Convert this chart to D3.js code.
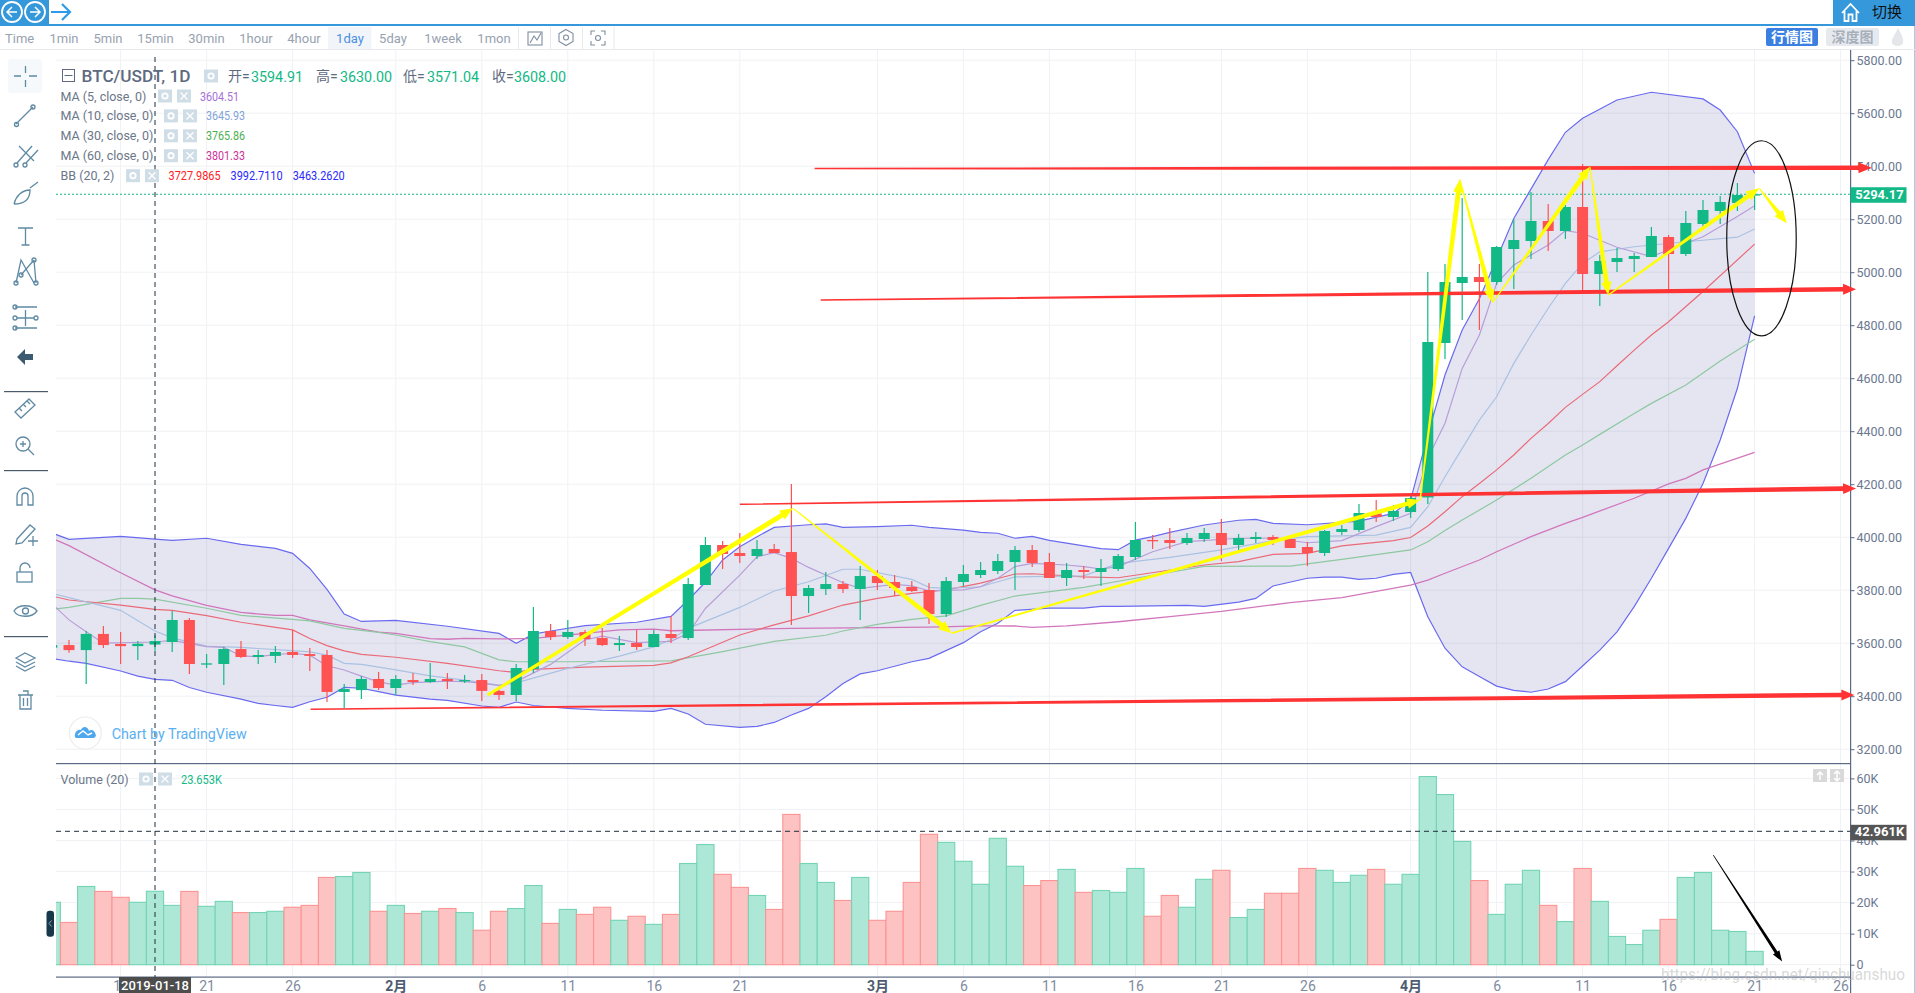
<!DOCTYPE html>
<html><head><meta charset="utf-8">
<script src="https://cdn.jsdelivr.net/npm/d3@7/dist/d3.min.js"></script>
<style>
html,body{margin:0;padding:0;background:#fff;overflow:hidden}
svg{display:block;font-family:Roboto,"Noto Sans CJK SC",sans-serif}
</style></head><body><div id="c"></div>
<script>
// ---------- daily candles, Jan 12 (day 0) to Apr 21 (day 99) ----------
const opens=[3583,3593,3574,3635,3597,3589,3594.91,3604.5,3687.6,3521.5,3521.5,3578,3548,3552,3567,3559,3555.5,3416,3423,3465,3431,3461,3453.6,3465,3457,3461,3420,3404.5,3502.6,3646,3623.3,3642,3619.5,3593,3600.7,3585.6,3634.7,3619.5,3819.6,3970.5,3940.3,3929,3955.4,3944,3778,3804.5,3823.3,3804.5,3853.5,3830.9,3812,3800.7,3710,3830.9,3857.4,3872.5,3906.4,3951.7,3906.4,3846,3876.2,3868.7,3880,3925.3,3989.4,3989.4,3978.1,3993.2,4015.9,3970.6,3993.2,4000.8,3993.2,3963,3940.4,4019.6,4027.2,4090,4076.2,4095,4150,4732.8,4959.3,4981.9,4963,5087.6,5117.7,5193.2,5155.5,5246,4993.2,5038.5,5049.8,5057.4,5132.9,5068.7,5181.9,5231,5261.2,5291];
const highs=[3600,3612,3646,3665,3642,3608,3630,3721.5,3695,3559,3586,3608,3574,3589,3650,3582,3574,3446,3476,3491,3480,3487.5,3525,3487.5,3480,3484,3435,3521.5,3736.5,3672.4,3687.5,3649.8,3657.3,3627,3649.8,3649.8,3702.6,3846,4000.7,3985.6,4015.8,3989.4,3974.3,4200.7,3819.6,3868.6,3834.6,3891.3,3876,3857,3834.6,3827,3849.8,3895,3906.4,3936.6,3966.8,3970.6,3940.4,3902.7,3891.3,3917.7,3936.6,4057.4,4008.3,4034.7,4015.9,4034.7,4068.7,4012,4019.6,4008.3,3993.2,3981.9,4027.2,4046,4125.3,4140.4,4121.5,4155.5,5000.8,5031,5280,5031,5098.9,5200.8,5302.7,5257.4,5253.6,5408.3,5064.9,5091.3,5072.5,5170.6,5140.4,5231,5272.5,5287.6,5336.6,5300];
const lows=[3570,3564,3446,3582,3521.5,3537,3571.04,3567,3484,3506,3442,3544,3521.5,3525,3544,3495,3378,3355.5,3389,3423,3404.5,3442,3450,3427,3450,3382,3385.7,3382,3487.5,3612,3615.8,3589.4,3589.4,3570.5,3574.3,3585,3600.7,3612,3819.6,3880,3902.6,3917.7,3940,3668.6,3713.9,3781.8,3789.4,3687.5,3800.7,3778,3793.1,3672.4,3698.8,3815.8,3846,3861,3800.8,3887.6,3846,3815.9,3842.3,3815.9,3872.5,3914,3955.5,3955.5,3970.6,3981.9,3910.2,3947.9,3978.1,3970.6,3959.2,3891.3,3929.1,4008.3,4019.6,4057.4,4061.1,4072.5,4125,4672.5,4819.6,4781.9,4951.7,4936.6,5049.8,5080,5125.3,4929,4872.5,5000.8,5000.8,5057.4,4936.6,5061.1,5174.4,5181.9,5231,5234.7];
const closes=[3593,3574,3635,3593,3589,3598,3608,3687.6,3521.5,3524,3578,3548,3555.5,3567,3555.5,3552,3416,3427,3465,3431,3465,3453.6,3465,3457,3461,3420,3404.5,3506.4,3646,3623.3,3642.2,3615.8,3593,3600.7,3585.6,3634.7,3619.5,3823.3,3970.5,3936.5,3929,3955.4,3940.3,3778,3808.2,3823.3,3804.5,3853.5,3827,3808.2,3796.9,3710,3834.6,3861,3876.2,3910.2,3951.7,3902.7,3846,3876.2,3868.7,3883.8,3929.1,3989.4,3985.7,3978.1,3997,4015.9,3970.6,3997,4000.8,3989.4,3959.2,3940.4,4023.4,4031,4091.3,4076.2,4098.9,4148,4736.6,4963,4981.9,4963,5095.1,5121.5,5193.2,5155.5,5246,4993.2,5042.3,5053.6,5061.1,5136.6,5068.7,5185.7,5234.7,5265,5291.3,5294.17];
const volumes=[20.1,13.6,25.2,23.6,21.7,20.1,23.653,19.1,23.6,18.8,20.4,16.8,16.8,17.2,18.5,19.1,28.1,28.4,29.7,17.2,19.1,16.5,17.2,18.1,16.8,11.1,17.2,18.1,25.5,13.3,17.8,16.2,18.5,14.3,15.6,13.0,16.2,32.6,38.7,29.1,24.9,22.3,17.8,48.4,32.6,26.5,20.7,28.1,14.3,17.2,26.5,42.0,39.4,33.3,25.9,40.7,31.7,25.5,27.1,30.7,23.3,23.9,23.3,31.0,15.6,22.3,18.5,27.5,30.4,15.2,17.8,23.0,23.0,31.0,30.4,26.5,28.8,30.7,25.9,29.1,60.6,54.8,39.7,27.1,16.2,25.9,30.4,19.1,13.9,31.0,20.4,9.1,6.5,11.1,14.6,28.1,29.7,11.1,10.7,4.3];

// ---------- indicator lines: [day, price] read at their visible vertices ----------
const bbUpper=[[0,4016],[1,3992],[4,4003],[6,3992.7],[7,3988],[9,3996],[11,3973],[13,3958],[14,3939],[15,3882],[16,3803],[17,3710],[18,3682],[20,3686],[23,3664],[26,3637],[27,3600],[28,3634],[29,3646],[31,3666],[34,3679],[36,3701],[37,3763],[38,3830],[39,3914],[40,3964],[41,4002],[42,4037],[44,4047],[45,4050],[46,4037],[48,4040],[50,4045],[51,4037],[53,4027],[54,4018],[55,4015],[56,3996],[57,4003],[58,3988],[61,3957],[62,3953],[63,3989],[64,4002],[65,4018],[67,4046],[69,4064],[70,4067],[71,4052],[73,4047],[76,4061],[78,4090],[79,4140],[80,4386],[81,4612],[82,4782],[83,4900],[84,5050],[85,5203],[87,5425],[88,5528],[89,5581],[91,5650],[93,5679],[96,5654],[97,5612],[98,5530],[99,5373]];
const bbLower=[[0,3542],[1,3532],[2,3524],[4,3495],[5,3476],[6,3463.3],[7,3460],[8,3433],[9,3415],[11,3389],[12,3373],[13,3365],[14,3358],[15,3379],[16,3396],[17,3433],[18,3430],[19,3417],[20,3404],[22,3389],[23,3384],[25,3363],[26,3358],[27,3378],[28,3365],[30,3354],[32,3347],[35,3343],[36,3354],[37,3333],[38,3294],[40,3282],[41,3286],[42,3301],[43,3329],[44,3354],[45,3398],[46,3448],[47,3484],[48,3496],[50,3530],[51,3543],[53,3602],[54,3643],[55,3675],[56,3724],[58,3732],[60,3732],[61,3739],[62,3739],[66,3743],[67,3739],[69,3755],[70,3769],[71,3816],[73,3845],[74,3849],[75,3849],[76,3841],[77,3845],[78,3860],[79,3867],[80,3700],[81,3581],[82,3511],[83,3474],[84,3438],[85,3422],[86,3415],[87,3427],[88,3455],[89,3514],[90,3574],[91,3643],[92,3738],[93,3845],[94,3958],[95,4071],[96,4203],[97,4367],[98,4562],[99,4835]];
const bbMid=[[0,3778],[1,3763],[4,3744],[6,3728],[7,3724],[9,3704],[11,3679],[14,3650],[15,3618],[16,3591],[17,3571],[18,3558],[20,3547],[23,3524],[26,3496],[27,3490],[28,3501],[31,3510],[35,3516],[36,3526],[37,3549],[40,3631],[42,3669],[44,3703],[46,3744],[48,3769],[50,3788],[52,3801],[54,3827],[56,3861],[57,3862],[60,3850],[62,3847],[67,3895],[69,3908],[71,3935],[73,3939],[75,3967],[78,3987],[79,3999],[80,4042],[81,4096],[82,4153],[83,4203],[84,4254],[85,4310],[86,4373],[87,4429],[88,4490],[89,4539],[90,4587],[91,4647],[92,4706],[93,4763],[94,4813],[96,4927],[99,5106]];
const ma60=[[0,3996],[1,3968],[4,3866],[6,3801],[7,3779],[9,3743],[11,3716],[13,3705],[14,3705],[15,3688],[17,3665],[19,3642],[20,3637],[22,3617],[23,3615],[24,3618],[26,3616],[28,3618],[31,3637],[33,3650],[35,3653],[36,3647],[43,3656],[48,3659],[51,3661],[54,3665],[56,3665],[57,3660],[59,3665],[62,3681],[65,3700],[68,3720],[72,3753],[75,3772],[79,3819],[80,3838],[81,3864],[83,3914],[84,3945],[86,4002],[88,4052],[89,4075],[92,4147],[94,4201],[95,4222],[96,4254],[99,4320]];
const ma30=[[0,3728],[1,3735],[4,3769],[5,3769],[6,3766],[9,3732],[11,3705],[14,3690],[15,3684],[17,3656],[19,3641],[20,3631],[22,3606],[24,3586],[26,3537],[27,3530],[30,3530],[36,3533],[39,3568],[42,3607],[45,3630],[46,3646],[48,3671],[50,3690],[52,3703],[54,3743],[56,3778],[60,3811],[63,3845],[67,3890],[72,3891],[75,3916],[79,3952],[80,3983],[81,4025],[82,4065],[84,4140],[86,4222],[88,4310],[89,4348],[90,4388],[92,4467],[93,4505],[95,4574],[97,4665],[99,4747]];
const ma10=[[0,3788],[1,3772],[4,3724],[6,3646],[7,3620],[9,3589],[11,3584],[14,3572],[15,3567],[16,3555],[17,3524],[18,3520],[20,3499],[22,3477],[24,3461],[26,3442],[27,3450],[30,3505],[33,3551],[35,3586],[36,3614],[37,3656],[40,3735],[42,3797],[44,3832],[46,3879],[47,3879],[50,3841],[51,3811],[52,3807],[54,3813],[55,3832],[56,3850],[60,3854],[62,3901],[65,3924],[68,3952],[71,3987],[73,4002],[77,4008],[79,4037],[80,4115],[81,4228],[82,4335],[83,4442],[84,4530],[85,4656],[86,4763],[87,4864],[88,4958],[89,5033],[90,5077],[92,5096],[95,5115],[98,5132],[99,5163]];
const ma5=[[0,3750],[1,3688],[2,3643],[3,3600],[6,3604.5],[7,3611],[9,3587],[10,3584],[11,3552],[12,3549],[13,3557],[14,3562],[15,3555],[16,3515],[17,3499],[18,3476],[19,3454],[20,3442],[21,3451],[23,3457],[24,3455],[25,3449],[26,3440],[27,3455],[29,3520],[31,3612],[32,3627],[34,3602],[36,3607],[37,3637],[38,3731],[40,3857],[41,3926],[42,3942],[43,3920],[44,3886],[46,3828],[47,3807],[49,3822],[50,3816],[51,3798],[53,3801],[54,3813],[55,3845],[56,3889],[57,3901],[59,3895],[60,3889],[61,3880],[62,3889],[64,3945],[66,3983],[69,3996],[71,3996],[73,3979],[75,3987],[77,4040],[79,4090],[80,4298],[81,4430],[82,4637],[83,4763],[84,4958],[85,5027],[87,5103],[88,5157],[89,5147],[91,5094],[93,5059],[95,5109],[96,5134],[98,5210],[99,5251]];

// ---------- axes ----------
const priceTicks=[3200,3400,3600,3800,4000,4200,4400,4600,4800,5000,5200,5400,5600,5800];
const volumeTicks=[0,10,20,30,40,50,60];
const tickDays=[4,9,14,20,25,30,35,40,48,53,58,63,68,73,79,84,89,94,99,104];
const tickLabels=["16","21","26","2月","6","11","16","21","3月","6","11","16","21","26","4月","6","11","16","21","26"];
const lastPrice=5294.17, crossDay=6, crossVolume=42.961;

// ---------- hand-drawn annotations: [[day,price],[day,price]] ----------
const redArrows=[[[44.35,5391],[105.8,5394]],[[44.7,4895],[104.9,4936]],[[40,4124],[104.9,4184]],[[15.05,3351],[104.8,3405]]];
const yellowArrows=[[[25.34,3404.5],[43.1,4109],3,5],[[43.1,4109],[52.32,3637.4],1,5],[[52.32,3637.4],[79.55,4140.4],1.5,4.5],[[79.55,4140.4],[81.87,5350.6],1.5,5],[[81.87,5350.6],[83.77,4885],1,5],[[83.77,4885],[89.43,5398],1,5],[[89.43,5398],[90.49,4914],1,5],[[90.49,4914],[99.27,5316.6],1.5,4.5],[[99.27,5316.6],[100.87,5184.5],1,4.5]];
const circleNote={day:99.4,price:5128,dayR:2.02,priceR:368};
const blackArrow=[[96.6,35.3],[100.6,1]];

// ---------- legend text ----------
const ohlcLabels=[["开=","3594.91",228,251],["高=","3630.00",316,340],["低=","3571.04",403,427],["收=","3608.00",492,514]];
const maLegend=[["MA (5, close, 0)","3604.51","#a56fd3",158,200],["MA (10, close, 0)","3645.93","#7fa3da",164,206],["MA (30, close, 0)","3765.86","#4caf50",164,206],["MA (60, close, 0)","3801.33","#cc3399",164,206]];
const toolbarItems=[["Time",19.6],["1min",64],["5min",108],["15min",155.5],["30min",206.5],["1hour",256],["4hour",304],["1day",350],["5day",393],["1week",443],["1mon",494]];

const W=1915,H=993,L=56,R=1850.5,T=50,PB=763.5,VB=977;
const svg=d3.select("#c").append("svg").attr("width",W).attr("height",H);
const x=d3.scaleLinear().domain([0,104]).range([51.8,1840.6]);
const y=d3.scaleLinear().domain([3200,5800]).range([749.2,60.2]);
const v=d3.scaleLinear().domain([0,60]).range([964.7,778.4]);
const GREEN="#12b886",RED="#ff5252",GRID="#f0f1f4";

const defs=svg.append("defs");
defs.append("clipPath").attr("id","cp").append("rect").attr("x",L).attr("y",T).attr("width",R-L).attr("height",PB-T);
defs.append("clipPath").attr("id","cv").append("rect").attr("x",L).attr("y",PB).attr("width",R-L).attr("height",VB-PB);

// header
svg.append("rect").attr("x",0).attr("y",0).attr("width",49).attr("height",24).attr("fill","#3498db");
svg.append("rect").attr("x",0).attr("y",24).attr("width",W).attr("height",2).attr("fill","#3498db");
[[12,1],[35,-1]].forEach(([cx,d])=>{
  const g=svg.append("g").attr("transform",`translate(${cx},12)`).attr("fill","none").attr("stroke","#fff");
  g.append("circle").attr("r",10).attr("stroke-width",1.8);
  g.append("path").attr("d",`M${-5*d},0H${5*d}M0,-5L${-5*d},0L0,5`).attr("stroke-width",1.5);
});
svg.append("path").attr("d","M51,12H70M62,4L70,12L62,20").attr("fill","none").attr("stroke","#2f9be8").attr("stroke-width",2.2);
svg.append("rect").attr("x",1833).attr("y",0).attr("width",82).attr("height",24).attr("fill","#3498db");
svg.append("path").attr("d","M1842,13L1850.5,4L1859,13M1844.5,11V21H1848.5V14.5H1852.5V21H1856.5V11").attr("fill","none").attr("stroke","#fff").attr("stroke-width",1.8);
svg.append("text").attr("x",1872).attr("y",17).attr("font-size",15).attr("fill","#111").text("切换");
svg.append("rect").attr("x",1914).attr("y",26).attr("width",1).attr("height",H-26).attr("fill","#9fcdec");

// toolbar
svg.append("rect").attr("x",0).attr("y",49).attr("width",W).attr("height",1).attr("fill","#e8eaed");
svg.append("rect").attr("x",328).attr("y",27).attr("width",43.5).attr("height",22).attr("fill","#f1f5fa");
toolbarItems.forEach(([t,cx])=>svg.append("text").attr("x",cx).attr("y",43).attr("text-anchor","middle").attr("font-size",13).attr("fill",t==="1day"?"#4a90e2":"#97a2b0").text(t));
[518,550,582,613.5].forEach(s=>svg.append("rect").attr("x",s).attr("y",27).attr("width",1).attr("height",22).attr("fill","#e8eaed"));
const tb=svg.append("g").attr("fill","none").attr("stroke","#7f8ea0").attr("stroke-width",1.1);
tb.append("rect").attr("x",528).attr("y",32).attr("width",14).attr("height",13);
tb.append("path").attr("d","M530,43L534,36L537,40L541,33");
tb.append("path").attr("d","M566,29.5L573,33.5V41.5L566,45.5L559,41.5V33.5Z");
tb.append("circle").attr("cx",566).attr("cy",37.5).attr("r",2.5);
tb.append("path").attr("d","M591,35V31H595M601,31H605V35M605,41V45H601M595,45H591V41");
tb.append("circle").attr("cx",598).attr("cy",38).attr("r",2.5);
svg.append("rect").attr("x",1766).attr("y",28).attr("width",52).attr("height",18).attr("rx",2).attr("fill","#3b7fe0");
svg.append("text").attr("x",1792).attr("y",42).attr("text-anchor","middle").attr("font-size",14).attr("font-weight",700).attr("fill","#fff").text("行情图");
svg.append("rect").attr("x",1826).attr("y",28).attr("width",53).attr("height",18).attr("rx",2).attr("fill","#e6eaef");
svg.append("text").attr("x",1852.5).attr("y",42).attr("text-anchor","middle").attr("font-size",14).attr("font-weight",700).attr("fill","#a6afba").text("深度图");
svg.append("path").attr("d","M1898,28C1901,34 1904,38 1903,43C1902,47 1893,47 1892,43C1891,39 1895,35 1898,28Z").attr("fill","#e4e6e9");

// sidebar
svg.append("rect").attr("x",8).attr("y",59).attr("width",34).attr("height",34).attr("rx",3).attr("fill","#f5f9fc");
[391,470,636].forEach(s=>svg.append("rect").attr("x",4).attr("y",s).attr("width",44).attr("height",1.2).attr("fill","#4a5a6a"));
const ic=svg.append("g").attr("fill","none").attr("stroke","#5f8aa3").attr("stroke-width",1.3);
ic.append("path").attr("d","M14,76H21M29,76H37M25.5,66V73M25.5,80V87");
ic.append("path").attr("d","M16,124L33,107");
ic.selectAll("circle.a").data([[16.5,124.5],[33,107],[16,165],[25,165],[21,275],[34,260],[16,283],[36,283],[15,307],[15,318],[15,328],[36,318]]).enter().append("circle").attr("cx",d=>d[0]).attr("cy",d=>d[1]).attr("r",2);
ic.append("path").attr("d","M17,163L32,146M26,163L38,150M19,146L34,161");
ic.append("path").attr("d","M14,204C16,196 22,190 30,190C30,198 26,204 14,204M30,188L38,182");
ic.append("path").attr("d","M18,228H33M25.5,228V245M21.5,245H29.5");
ic.append("path").attr("d","M16,283L21,260L34,283M34,260L36,283M21,275L34,260");
ic.append("path").attr("d","M15,307H37M15,328H37M17,318H34M25.5,310V326");
svg.append("path").attr("d","M17,357L25,349V354H33V360H25V365Z").attr("fill","#3c5a70");
ic.append("path").attr("d","M15,412L29,399L35,405L21,418ZM19,408L22,411M23,404L26,407M27,401L30,404");
ic.append("circle").attr("cx",23).attr("cy",444).attr("r",7);
ic.append("path").attr("d","M28,449L34,455M20,444H26M23,441V447");
ic.append("path").attr("d","M17,505V496A8,8 0 0 1 33,496V505H28V496A3,3 0 0 0 22,496V505Z");
ic.append("path").attr("d","M17,539L30,525L35,529L22,543L16,544ZM28,541H38M33,536V546");
ic.append("rect").attr("x",17).attr("y",572).attr("width",15).attr("height",10);
ic.append("path").attr("d","M20,572V568A5,5 0 0 1 30,568");
ic.append("path").attr("d","M14,611C18,604 32,604 37,611C32,618 18,618 14,611Z");
ic.append("circle").attr("cx",25.5).attr("cy",611).attr("r",3);
ic.append("path").attr("d","M16,658L25,653L35,658L25,663ZM16,662L25,667L35,662M16,666L25,671L35,666");
ic.append("path").attr("d","M18,695H33M20,695V709H31V695M23,691H28V695M23.5,698V706M27.5,698V706");
svg.append("rect").attr("x",46.5).attr("y",910.7).attr("width",7.5).attr("height",26).attr("rx",3).attr("fill","#17384a");
svg.append("path").attr("d","M51.5,920.5L49,923.5L51.5,926.5").attr("fill","none").attr("stroke","#8fa3b0");

// grids
const grid=svg.append("g");
grid.selectAll("line.h").data(priceTicks).enter().append("line").attr("x1",L).attr("x2",R).attr("y1",d=>y(d)).attr("y2",d=>y(d)).attr("stroke",GRID).attr("stroke-width",1);
grid.selectAll("line.w").data(volumeTicks).enter().append("line").attr("x1",L).attr("x2",R).attr("y1",d=>v(d)).attr("y2",d=>v(d)).attr("stroke",GRID).attr("stroke-width",1);
grid.selectAll("line.t").data(tickDays).enter().append("line").attr("x1",d=>x(d)).attr("x2",d=>x(d)).attr("y1",T).attr("y2",VB).attr("stroke",GRID).attr("stroke-width",1);

// price pane
const pane=svg.append("g").attr("clip-path","url(#cp)");
const ln=d3.line().x(d=>x(d[0])).y(d=>y(d[1]));
pane.append("path").attr("d",ln(bbUpper.concat(bbLower.slice().reverse()))+"Z").attr("fill","#3c3c96").attr("fill-opacity",0.135);
[[bbUpper,"#6a6af0",1.2,1],[bbLower,"#6a6af0",1.2,1],[ma60,"#d070b8",1.3,.95],[ma30,"#8ec8a0",1.2,1],[bbMid,"#ea6a78",1.2,1],[ma10,"#aac2e2",1.2,1],[ma5,"#b79ed8",1.2,1]].forEach(([d,c,w,o])=>
  pane.append("path").attr("d",ln(d)).attr("fill","none").attr("stroke",c).attr("stroke-width",w).attr("stroke-opacity",o));
const idx=d3.range(closes.length);
const col=i=>closes[i]>=opens[i]?GREEN:RED;
pane.selectAll("line.w").data(idx).enter().append("line").attr("x1",i=>x(i)).attr("x2",i=>x(i)).attr("y1",i=>y(highs[i])).attr("y2",i=>y(lows[i])).attr("stroke",col).attr("stroke-width",1.2);
pane.selectAll("rect.b").data(idx).enter().append("rect").attr("x",i=>x(i)-5.5).attr("width",11)
  .attr("y",i=>y(Math.max(opens[i],closes[i]))).attr("height",i=>Math.max(1.3,Math.abs(y(opens[i])-y(closes[i])))).attr("fill",col);

// volume pane
const vp=svg.append("g").attr("clip-path","url(#cv)");
vp.selectAll("rect").data(idx).enter().append("rect")
  .attr("x",i=>x(i-0.5)).attr("width",i=>x(i+0.5)-x(i-0.5)).attr("y",i=>v(volumes[i])).attr("height",i=>v(0)-v(volumes[i]))
  .attr("fill",i=>closes[i]>=opens[i]?"#ade7d5":"#fdc2c2").attr("stroke",i=>closes[i]>=opens[i]?"#74d4b5":"#fb9494").attr("stroke-width",1.1);

// frame
svg.append("rect").attr("x",L).attr("y",763).attr("width",R-L).attr("height",1.2).attr("fill","#5d6a85");
svg.append("rect").attr("x",L).attr("y",976.5).attr("width",R-L).attr("height",1.2).attr("fill","#5d6a85");
svg.append("rect").attr("x",R-0.5).attr("y",T).attr("width",1.2).attr("height",H-T).attr("fill","#5d6a85");

// axes
function style(g){g.select(".domain").remove();g.selectAll(".tick line").attr("stroke","#5d6a85");g.selectAll(".tick text").attr("fill","#6b7890").attr("font-size",12.5).attr("font-family",'Roboto,"Noto Sans CJK SC",sans-serif');}
svg.append("g").attr("transform",`translate(${R},0)`).call(d3.axisRight(y).tickValues(priceTicks).tickSize(4).tickPadding(2).tickFormat(d=>d.toFixed(2))).call(style);
svg.append("g").attr("transform",`translate(${R},0)`).call(d3.axisRight(v).tickValues(volumeTicks).tickSize(4).tickPadding(2).tickFormat(d=>d===0?"0":d+"K")).call(style);
const xa=svg.append("g").attr("transform",`translate(0,${VB-6})`).call(d3.axisBottom(x).tickValues(tickDays).tickSize(0).tickPadding(10).tickFormat((d,i)=>tickLabels[i])).call(style);
xa.selectAll(".tick text").attr("font-size",14).attr("fill",(d,i)=>tickLabels[i].includes("月")?"#4f5b70":"#7f8ba0").attr("font-weight",(d,i)=>tickLabels[i].includes("月")?700:400);

// current price line + labels
svg.append("line").attr("x1",L).attr("x2",R).attr("y1",y(lastPrice)).attr("y2",y(lastPrice)).attr("stroke",GREEN).attr("stroke-width",1).attr("stroke-dasharray","2,2");
svg.append("rect").attr("x",R).attr("y",y(lastPrice)-7).attr("width",56).attr("height",15.5).attr("fill",GREEN);
svg.append("text").attr("x",R+29).attr("y",y(lastPrice)+5).attr("text-anchor","middle").attr("font-size",13).attr("font-weight",700).attr("fill","#fff").text(lastPrice.toFixed(2));

// crosshair
svg.append("line").attr("x1",x(crossDay)).attr("x2",x(crossDay)).attr("y1",57).attr("y2",VB).attr("stroke","#1d2f3f").attr("stroke-width",1).attr("stroke-dasharray","5,4");
svg.append("line").attr("x1",L).attr("x2",R).attr("y1",v(crossVolume)).attr("y2",v(crossVolume)).attr("stroke","#1d2f3f").attr("stroke-width",1).attr("stroke-dasharray","5,4");
svg.append("rect").attr("x",R).attr("y",v(crossVolume)-6.5).attr("width",56).attr("height",15.5).attr("fill","#555");
svg.append("text").attr("x",R+29).attr("y",v(crossVolume)+5).attr("text-anchor","middle").attr("font-size",13).attr("font-weight",700).attr("fill","#fff").text(crossVolume.toFixed(3)+"K");
svg.append("rect").attr("x",x(crossDay)-36).attr("y",977).attr("width",72).attr("height",16).attr("fill","#4d4d4d");
svg.append("text").attr("x",x(crossDay)).attr("y",990).attr("text-anchor","middle").attr("font-size",13).attr("font-weight",500).attr("fill","#fff").text("2019-01-18");

// legend
const lg=svg.append("g");
function fit(sel,w){return sel.attr("textLength",w).attr("lengthAdjust","spacingAndGlyphs");}
function boxIcon(xp,yc,kind){
  lg.append("rect").attr("x",xp).attr("y",yc-6.5).attr("width",14).attr("height",13).attr("fill","#cfdde6");
  if(kind==="x") lg.append("path").attr("d",`M${xp+3.5},${yc-3.5}l7,7m0,-7l-7,7`).attr("stroke","#fff").attr("stroke-width",1.4);
  else lg.append("circle").attr("cx",xp+7).attr("cy",yc).attr("r",2.7).attr("fill","none").attr("stroke","#fff").attr("stroke-width",1.8);
}
lg.append("rect").attr("x",62.5).attr("y",69.5).attr("width",12).attr("height",12).attr("fill","none").attr("stroke","#5d6a80");
lg.append("path").attr("d","M64.5,75.5H72.5").attr("stroke","#5d6a80");
fit(lg.append("text").attr("x",81.5).attr("y",82).attr("font-size",16.5).attr("font-weight",500).attr("fill","#5d6a80").text("BTC/USDT, 1D"),109);
boxIcon(204,76,"g");
ohlcLabels.forEach(([a,b,xa,xb])=>{
  lg.append("text").attr("x",xa).attr("y",81).attr("font-size",14).attr("fill","#5d6a80").text(a);
  fit(lg.append("text").attr("x",xb).attr("y",81.5).attr("font-size",15.5).attr("fill",GREEN).text(b),52);
});
maLegend.forEach(([t,val,c,gx,vx],i)=>{
  const yc=96+i*19.9;
  lg.append("text").attr("x",60.5).attr("y",yc+4.5).attr("font-size",12.5).attr("fill","#6b7688").text(t);
  boxIcon(gx,yc,"g");boxIcon(gx+19,yc,"x");
  fit(lg.append("text").attr("x",vx).attr("y",yc+4.5).attr("font-size",12.5).attr("fill",c).text(val),39);
});
lg.append("text").attr("x",60.5).attr("y",180).attr("font-size",12.5).attr("fill","#6b7688").text("BB (20, 2)");
boxIcon(126,175.7,"g");boxIcon(145,175.7,"x");
[["3727.9865",168.6,"#ff2222"],["3992.7110",230.6,"#2828ff"],["3463.2620",292.7,"#2828ff"]].forEach(([t,xp,c])=>
  fit(lg.append("text").attr("x",xp).attr("y",180).attr("font-size",12.5).attr("fill",c).text(t),52));
lg.append("text").attr("x",60.5).attr("y",783.5).attr("font-size",12.5).attr("fill","#6b7688").text("Volume (20)");
boxIcon(139,779,"g");boxIcon(158,779,"x");
fit(lg.append("text").attr("x",181).attr("y",783.5).attr("font-size",12.5).attr("fill",GREEN).text("23.653K"),41);
[[1813,"M1820,772V780M1817,775L1820,772L1823,775"],[1830,"M1837,771V781M1834,774L1837,771L1840,774M1834,778L1837,781L1840,778"]].forEach(([xp,p])=>{
  lg.append("rect").attr("x",xp).attr("y",769).attr("width",14).attr("height",13).attr("fill","#d9d9d9");
  lg.append("path").attr("d",p).attr("fill","none").attr("stroke","#fff").attr("stroke-width",1.4);
});

// TradingView mark
svg.append("circle").attr("cx",85.3).attr("cy",733).attr("r",16).attr("fill","#fff").attr("stroke","#ececec").attr("stroke-width",1.2);
svg.append("path").attr("d","M75,737C74,731 79,729 81,730C83,725 88,727 89,731C91,729 95,730 96,736L94,738H76Z").attr("fill","#4da8ee");
svg.append("path").attr("d","M78,735L83,731L88,735L92,733").attr("fill","none").attr("stroke","#fff").attr("stroke-width",1.4);
fit(svg.append("text").attr("x",111.7).attr("y",739).attr("font-size",14.5).attr("fill","#5ab0f0").text("Chart by TradingView"),135);

// annotations
function arrowPath(ax,ay,bx,by,w0,w1,hl,hw){
  const dx=bx-ax,dy=by-ay,len=Math.hypot(dx,dy),ux=dx/len,uy=dy/len,nx=-uy,ny=ux;
  const cx=bx-ux*hl,cy=by-uy*hl;
  const pts=[[ax+nx*w0/2,ay+ny*w0/2],[cx+nx*w1/2,cy+ny*w1/2],[cx+nx*hw/2,cy+ny*hw/2],[bx,by],[cx-nx*hw/2,cy-ny*hw/2],[cx-nx*w1/2,cy-ny*w1/2],[ax-nx*w0/2,ay-ny*w0/2]];
  return "M"+pts.map(p=>p.join(",")).join("L")+"Z";
}
const an=svg.append("g");
redArrows.forEach(([a,b])=>an.append("path").attr("d",arrowPath(x(a[0]),y(a[1]),x(b[0]),y(b[1]),1.5,4.6,13,11)).attr("fill","#ff3333"));
yellowArrows.forEach(([a,b,w0,w1])=>an.append("path").attr("d",arrowPath(x(a[0]),y(a[1]),x(b[0]),y(b[1]),w0,w1,13,10.5)).attr("fill","#ffff00"));
an.append("ellipse").attr("cx",x(circleNote.day)).attr("cy",y(circleNote.price)).attr("rx",x(circleNote.day+circleNote.dayR)-x(circleNote.day)).attr("ry",y(circleNote.price-circleNote.priceR)-y(circleNote.price)).attr("fill","none").attr("stroke","#111").attr("stroke-width",1.2);
an.append("path").attr("d",arrowPath(x(blackArrow[0][0]),v(blackArrow[0][1]),x(blackArrow[1][0]),v(blackArrow[1][1]),0.8,3.2,11,7.5)).attr("fill","#000");
fit(svg.append("text").attr("x",1661).attr("y",980).attr("font-size",16).attr("fill","#b8b8b8").attr("fill-opacity",0.55).text("https://blog.csdn.net/qinchuanshuo"),244);
</script></body></html>
